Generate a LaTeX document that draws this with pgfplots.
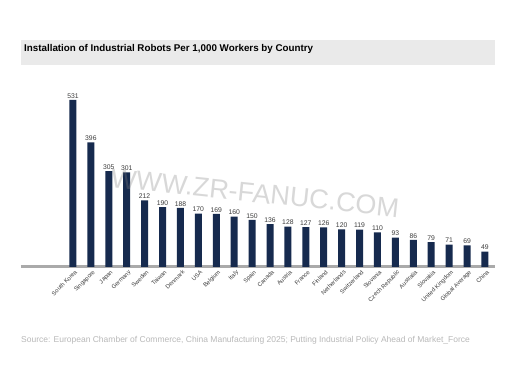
\documentclass[border=0pt]{standalone}
\usepackage{pgfplots}
\pgfplotsset{compat=1.18}
\usepackage{fontspec}
\setmainfont{Liberation Sans}
\definecolor{barnavy}{RGB}{22,42,78}
\definecolor{band}{RGB}{234,234,234}
\definecolor{basegray}{RGB}{170,170,170}
\definecolor{txtgray}{RGB}{60,60,60}
\definecolor{srcgray}{RGB}{185,185,185}
\begin{document}
\begin{tikzpicture}[x=1pt,y=1pt]
\useasboundingbox (0,0) rectangle (516,387);
\fill[white] (0,0) rectangle (516,387);
\fill[band] (21,322) rectangle (495,347);
\node[anchor=base west,font=\bfseries\fontsize{9.8}{11}\selectfont,inner sep=0] at (24,335) {Installation of Industrial Robots Per 1,000 Workers by Country};
\node[anchor=base west,font=\fontsize{8.5}{9}\selectfont,text=srcgray,inner sep=0] at (21,44) {Source: European Chamber of Commerce, China Manufacturing 2025; Putting Industrial Policy Ahead of Market\_Force};
\begin{axis}[
  at={(21pt,120pt)}, anchor=south west,
  scale only axis, width=474pt, height=188.7pt,
  xmin=-2.9, xmax=23.56, ymin=0, ymax=600,
  axis x line=bottom, axis y line=none,
  x axis line style={basegray,line width=3pt,-},
  xtick=data, major tick length=0pt,
  /pgf/number format/assume math mode=true,
  xticklabels={South Korea,Singapore,Japan,Germany,Sweden,Taiwan,Denmark,USA,Belgium,Italy,Spain,Canada,Austria,France,Finland,Netherlands,Switzerland,Slovenia,Czech Republic,Australia,Slovakia,United Kingdom,Global Average,China},
  xticklabel style={rotate=45,anchor=north east,font=\fontsize{5.9}{7}\selectfont,text=txtgray,inner sep=0.8pt,yshift=-2pt},
  ybar, bar width=7pt,
  nodes near coords,
  nodes near coords style={font=\fontsize{6.8}{7}\selectfont,text=txtgray,inner sep=1.5pt},
  clip=false,
]
\addplot[fill=barnavy,draw=none] coordinates {
(0,531) (1,396) (2,305) (3,301) (4,212) (5,190) (6,188) (7,170) (8,169) (9,160) (10,150) (11,136)
(12,128) (13,127) (14,126) (15,120) (16,119) (17,110) (18,93) (19,86) (20,79) (21,71) (22,69) (23,49)
};
\end{axis}
\node[rotate=-6,font=\fontsize{27}{29}\selectfont,text=gray,opacity=0.3] at (255,194) {WWW.ZR-FANUC.COM};
\end{tikzpicture}
\end{document}
